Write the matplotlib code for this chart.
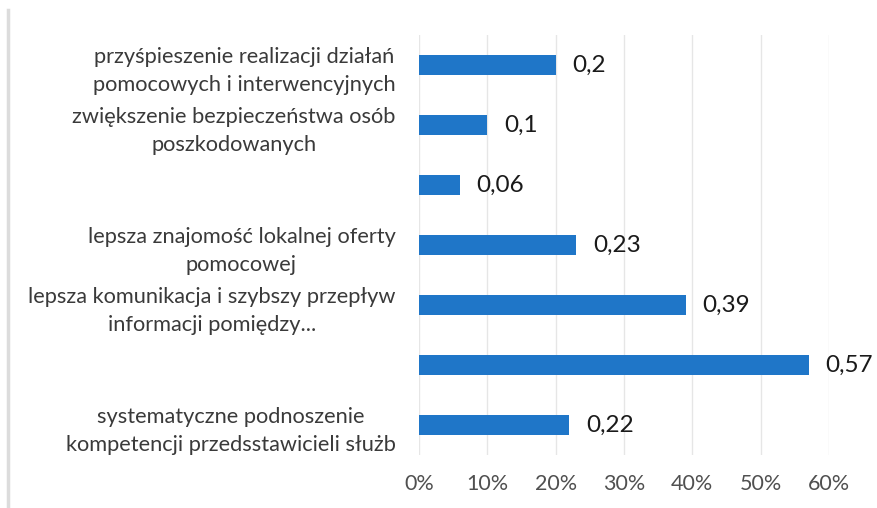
import matplotlib
matplotlib.use("Agg")
import matplotlib.pyplot as plt
from matplotlib.lines import Line2D
from matplotlib.ticker import FuncFormatter

categories = [
    "przyśpieszenie realizacji działań\npomocowych i interwencyjnych",
    "zwiększenie bezpieczeństwa osób\nposzkodowanych",
    "",
    "lepsza znajomość lokalnej oferty\npomocowej",
    "lepsza komunikacja i szybszy przepływ\ninformacji pomiędzy...",
    "",
    "systematyczne podnoszenie\nkompetencji przedsstawicieli służb",
]
values = [0.20, 0.10, 0.06, 0.23, 0.39, 0.57, 0.22]
value_labels = ["0,2", "0,1", "0,06", "0,23", "0,39", "0,57", "0,22"]
x_ticks = [0.0, 0.1, 0.2, 0.3, 0.4, 0.5, 0.6]

plt.rcParams['font.family'] = ['Lato', 'DejaVu Sans']

fig = plt.figure(figsize=(8.77, 5.08), dpi=100)
ax = fig.add_axes([419/877, 1-455/508, (829-419)/877, (455-35)/508])

y = list(range(len(categories)))
ax.barh(y, values, height=0.34, color='#1f76c8', zorder=3)
ax.set_ylim(len(categories) - 0.5, -0.5)
ax.set_xlim(0, 0.6)

ax.set_yticks(y)
ax.set_yticklabels(categories, fontsize=15.7, color='#3a3a3a',
                   multialignment='center', linespacing=1.5)
ax.tick_params(axis='y', length=0, pad=17)

ax.set_xticks(x_ticks)
ax.xaxis.set_major_formatter(FuncFormatter(lambda v, p: f"{v*100:.0f}%"))
ax.tick_params(axis='x', length=0, pad=14, labelsize=15.5, labelcolor='#505050')

ax.grid(axis='x', color='#e6e6e6', linewidth=1.0, zorder=0)
for s in ax.spines.values():
    s.set_visible(False)

for yi, v, lab in zip(y, values, value_labels):
    ax.annotate(lab, (v, yi), xytext=(12, 0), textcoords='offset points',
                ha='left', va='center', fontsize=17.5, color='#1a1a1a')

fig.add_artist(Line2D([8/877, 8/877], [0, 1-10/508], transform=fig.transFigure,
                      color='#dcdcdc', linewidth=2.5))

fig.savefig("out.png", dpi=100, facecolor='white')
